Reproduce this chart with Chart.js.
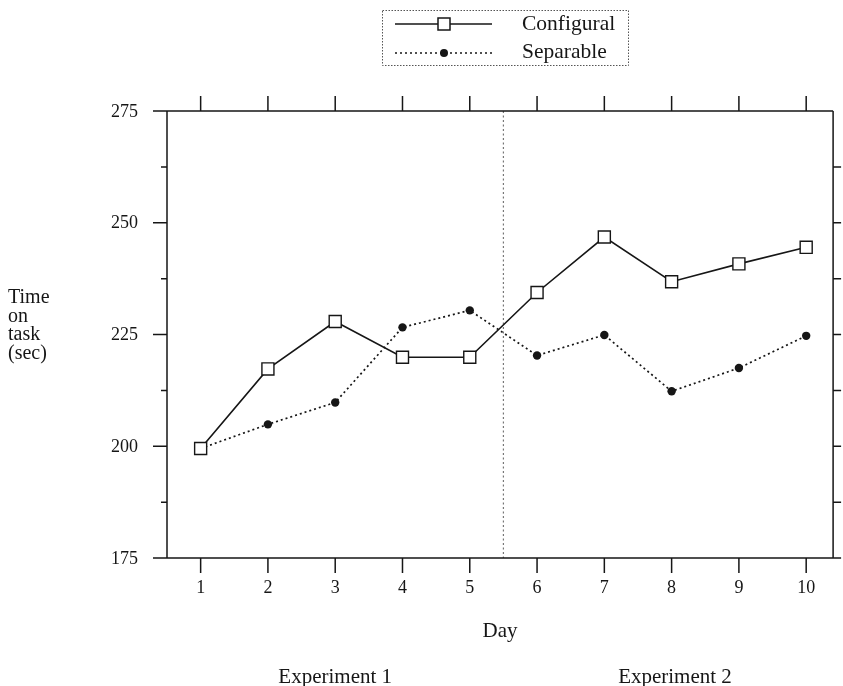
<!DOCTYPE html>
<html><head><meta charset="utf-8">
<script src="https://cdn.jsdelivr.net/npm/chart.js@4/dist/chart.umd.min.js"></script>
<style>html,body{margin:0;padding:0;background:#fff}#wrap{width:843px;height:686px;position:relative}</style>
</head><body><div id="wrap"><canvas id="c" width="843" height="686"></canvas></div>
<script>
const days = [1,2,3,4,5,6,7,8,9,10];
const configural = [199.5, 217.3, 227.9, 219.9, 219.9, 234.4, 246.8, 236.8, 240.8, 244.5];
const separable  = [199.5, 204.9, 209.8, 226.6, 230.4, 220.3, 224.9, 212.3, 217.5, 224.7];
const yMajorTicks = [175, 200, 225, 250, 275];
const yMinorTicks = [187.5, 212.5, 237.5, 262.5];
const xTickLabels = ['1','2','3','4','5','6','7','8','9','10'];
const seriesNames = ['Configural', 'Separable'];
const yTitle = ['Time', 'on', 'task', '(sec)'];
const xTitle = 'Day';
const groupLabels = ['Experiment 1', 'Experiment 2'];
const groupCenters = [3.0, 8.05];
const dividerDay = 5.5;

const FONT = '"Liberation Serif", "DejaVu Serif", serif';
const INK = '#161616';

const framePlugin = {
  id: 'frame',
  afterDatasetsDraw(chart) {
    const {ctx, chartArea: a, scales: {x, y}} = chart;
    ctx.save();
    ctx.strokeStyle = INK; ctx.fillStyle = INK; ctx.lineWidth = 1.5;
    ctx.beginPath();
    ctx.moveTo(a.left, a.top); ctx.lineTo(a.left, a.bottom);
    ctx.moveTo(a.right, a.top); ctx.lineTo(a.right, a.bottom);
    ctx.moveTo(a.left - 14, a.top); ctx.lineTo(a.right, a.top);
    ctx.moveTo(a.left - 14, a.bottom); ctx.lineTo(a.right + 8, a.bottom);
    days.forEach(d => {
      const px = x.getPixelForValue(d);
      ctx.moveTo(px, a.bottom); ctx.lineTo(px, a.bottom + 15);
      ctx.moveTo(px, a.top); ctx.lineTo(px, a.top - 15);
    });
    yMajorTicks.forEach(v => {
      const py = y.getPixelForValue(v);
      ctx.moveTo(a.left, py); ctx.lineTo(a.left - 14, py);
      if (v > 175 && v < 275) { ctx.moveTo(a.right, py); ctx.lineTo(a.right + 8, py); }
    });
    yMinorTicks.forEach(v => {
      const py = y.getPixelForValue(v);
      ctx.moveTo(a.left, py); ctx.lineTo(a.left - 6, py);
      ctx.moveTo(a.right, py); ctx.lineTo(a.right + 8, py);
    });
    ctx.stroke();
    ctx.font = '18px ' + FONT;
    ctx.textAlign = 'right'; ctx.textBaseline = 'middle';
    yMajorTicks.forEach(v => ctx.fillText(String(v), a.left - 29, y.getPixelForValue(v) + 1));
    ctx.textAlign = 'center'; ctx.textBaseline = 'middle';
    days.forEach((d, i) => ctx.fillText(xTickLabels[i], x.getPixelForValue(d), a.bottom + 30));
    ctx.font = '21px ' + FONT;
    ctx.fillText(xTitle, x.getPixelForValue(5.45), 631);
    groupLabels.forEach((g, i) => ctx.fillText(g, x.getPixelForValue(groupCenters[i]), 677));
    ctx.font = '20px ' + FONT;
    ctx.textAlign = 'left';
    yTitle.forEach((t, i) => ctx.fillText(t, 8, 298 + i * 18.5));
    const L = {x: 382, y: 10, w: 246, h: 55};
    ctx.lineWidth = 1; ctx.strokeStyle = '#555';
    ctx.setLineDash([1.5, 1.5]);
    ctx.strokeRect(L.x + 0.5, L.y + 0.5, L.w, L.h);
    ctx.setLineDash([]);
    ctx.strokeStyle = INK; ctx.lineWidth = 1.5;
    ctx.beginPath(); ctx.moveTo(395, 24); ctx.lineTo(492, 24); ctx.stroke();
    ctx.fillStyle = '#fff'; ctx.fillRect(438, 18, 12, 12); ctx.strokeRect(438, 18, 12, 12);
    ctx.setLineDash([2, 3]);
    ctx.beginPath(); ctx.moveTo(395, 53); ctx.lineTo(492, 53); ctx.stroke();
    ctx.setLineDash([]);
    ctx.fillStyle = INK; ctx.beginPath(); ctx.arc(444, 53, 4, 0, Math.PI * 2); ctx.fill();
    ctx.font = '21.5px ' + FONT; ctx.textBaseline = 'middle';
    ctx.fillText(seriesNames[0], 522, 24);
    ctx.fillText(seriesNames[1], 522, 52);
    ctx.restore();
  },
  beforeDatasetsDraw(chart) {
    const {ctx, chartArea: a, scales: {x}} = chart;
    ctx.save();
    ctx.strokeStyle = '#777'; ctx.lineWidth = 1.2; ctx.setLineDash([2, 2.5]);
    const px = x.getPixelForValue(dividerDay);
    ctx.beginPath(); ctx.moveTo(px, a.top); ctx.lineTo(px, a.bottom); ctx.stroke();
    ctx.restore();
  }
};

new Chart(document.getElementById('c'), {
  type: 'line',
  data: {
    datasets: [
      {
        label: seriesNames[0],
        data: days.map((d, i) => ({x: d, y: configural[i]})),
        borderColor: INK, borderWidth: 1.6,
        pointStyle: 'rect', pointRadius: 8.5, pointBorderWidth: 1.4,
        pointBackgroundColor: '#fff', pointBorderColor: INK,
        tension: 0
      },
      {
        label: seriesNames[1],
        data: days.map((d, i) => ({x: d, y: separable[i]})),
        borderColor: INK, borderWidth: 1.7, borderDash: [2, 3],
        pointStyle: 'circle', pointRadius: 4.2, pointBorderWidth: 0,
        pointBackgroundColor: INK, pointBorderColor: INK,
        tension: 0
      }
    ]
  },
  options: {
    responsive: false, animation: false,
    layout: {padding: {left: 167, top: 111, right: 9, bottom: 128}},
    plugins: {legend: {display: false}, tooltip: {enabled: false}},
    scales: {
      x: {type: 'linear', min: 0.5, max: 10.4, display: false},
      y: {type: 'linear', min: 175, max: 275, display: false}
    }
  },
  plugins: [framePlugin]
});
</script>
</body></html>
